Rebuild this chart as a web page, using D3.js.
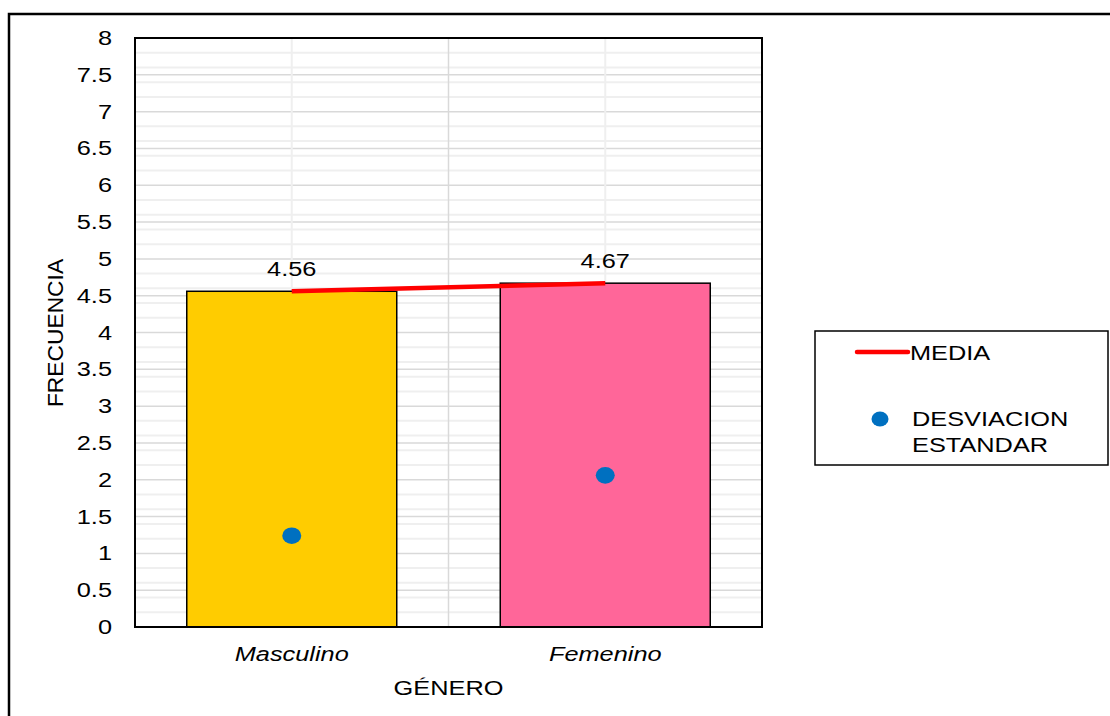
<!DOCTYPE html>
<html>
<head>
<meta charset="utf-8">
<script src="https://cdn.jsdelivr.net/npm/d3@7"></script>
<style>
  body { margin: 0; background: #fff; }
  text { font-family: "Liberation Sans", Arial, sans-serif; fill: #000; }
</style>
</head>
<body>
<div id="chart"></div>
<script>
// data
let categories = ["Masculino", "Femenino"];
let means = [4.56, 4.67];
let stdDevs = [1.24, 2.06];
let barColors = ["#FFCC00", "#FF6699"];
let yTicks = [0, 0.5, 1, 1.5, 2, 2.5, 3, 3.5, 4, 4.5, 5, 5.5, 6, 6.5, 7, 7.5, 8];

let W = 1110, H = 716;
let plot = {left: 135, top: 38, right: 762, bottom: 627};
let fontSize = 19.5;
let stretch = 1.3; // the reference text is wide, so stretch it sideways

// place text at (x, y) with the horizontal stretch
function at(x, y) {
    return "translate(" + x + "," + y + ") scale(" + stretch + ",1)";
}

let svg = d3.select("#chart").append("svg")
    .attr("width", W)
    .attr("height", H);

// outer frame
svg.append("rect")
    .attr("x", 9).attr("y", 14)
    .attr("width", W + 20).attr("height", H + 20)
    .attr("fill", "none").attr("stroke", "#000").attr("stroke-width", 2.5);

let x = d3.scaleBand()
    .domain(categories)
    .range([plot.left, plot.right])
    .paddingInner(0);

let y = d3.scaleLinear()
    .domain([0, 8])
    .range([plot.bottom, plot.top]);

let barW = 210;
let center = d => x(d) + x.bandwidth() / 2;

// minor horizontal grid (every 0.2)
let minor = d3.range(0, 8.01, 0.2).filter(v => Math.abs(v * 2 - Math.round(v * 2)) > 0.01);
svg.append("g").selectAll("line")
    .data(minor)
    .join("line")
    .attr("x1", plot.left).attr("x2", plot.right)
    .attr("y1", d => y(d)).attr("y2", d => y(d))
    .attr("stroke", "#efefef").attr("stroke-width", 2);

// major horizontal grid
svg.append("g").selectAll("line")
    .data(yTicks)
    .join("line")
    .attr("x1", plot.left).attr("x2", plot.right)
    .attr("y1", d => y(d)).attr("y2", d => y(d))
    .attr("stroke", "#d9d9d9").attr("stroke-width", 1.5);

// vertical grid: light at category centers, darker at the boundary
svg.append("g").selectAll("line")
    .data(categories)
    .join("line")
    .attr("x1", center).attr("x2", center)
    .attr("y1", plot.top).attr("y2", plot.bottom)
    .attr("stroke", "#efefef").attr("stroke-width", 2);

svg.append("line")
    .attr("x1", x(categories[1])).attr("x2", x(categories[1]))
    .attr("y1", plot.top).attr("y2", plot.bottom)
    .attr("stroke", "#d9d9d9").attr("stroke-width", 1.5);

// bars
svg.append("g").selectAll("rect")
    .data(categories)
    .join("rect")
    .attr("x", d => x(d) + (x.bandwidth() - barW) / 2)
    .attr("y", (d, i) => y(means[i]))
    .attr("width", barW)
    .attr("height", (d, i) => y(0) - y(means[i]))
    .attr("fill", (d, i) => barColors[i])
    .attr("stroke", "#000").attr("stroke-width", 1.5);

// plot border
svg.append("rect")
    .attr("x", plot.left).attr("y", plot.top)
    .attr("width", plot.right - plot.left).attr("height", plot.bottom - plot.top)
    .attr("fill", "none").attr("stroke", "#000").attr("stroke-width", 2);

// mean line
let line = d3.line()
    .x((d, i) => center(categories[i]))
    .y(d => y(d));

svg.append("path")
    .datum(means)
    .attr("d", line)
    .attr("fill", "none").attr("stroke", "#FF0000").attr("stroke-width", 4.5);

// mean labels
svg.append("g").selectAll("text")
    .data(means)
    .join("text")
    .attr("transform", (d, i) => at(center(categories[i]), y(d) - 15))
    .attr("text-anchor", "middle")
    .attr("font-size", fontSize)
    .text(d => d.toFixed(2));

// std dev dots
svg.append("g").selectAll("ellipse")
    .data(stdDevs)
    .join("ellipse")
    .attr("cx", (d, i) => center(categories[i]))
    .attr("cy", d => y(d))
    .attr("rx", 9.5).attr("ry", 8.3)
    .attr("fill", "#0070C0");

// y axis labels
svg.append("g").selectAll("text")
    .data(yTicks)
    .join("text")
    .attr("transform", d => at(112, y(d)))
    .attr("dy", "0.36em")
    .attr("text-anchor", "end")
    .attr("font-size", fontSize)
    .text(d => d);

// x axis labels
svg.append("g").selectAll("text")
    .data(categories)
    .join("text")
    .attr("transform", d => at(center(d), 661))
    .attr("text-anchor", "middle")
    .attr("font-size", fontSize)
    .attr("font-style", "italic")
    .text(d => d);

svg.append("text")
    .attr("transform", at(x(categories[1]), 695))
    .attr("text-anchor", "middle")
    .attr("font-size", fontSize)
    .text("GÉNERO");

svg.append("text")
    .attr("transform", "translate(63,333) rotate(-90)")
    .attr("text-anchor", "middle")
    .attr("font-size", 22.8)
    .text("FRECUENCIA");

// legend
let lg = svg.append("g");
lg.append("rect")
    .attr("x", 815).attr("y", 331)
    .attr("width", 293).attr("height", 134)
    .attr("fill", "#fff").attr("stroke", "#000").attr("stroke-width", 1.5);
lg.append("line")
    .attr("x1", 857).attr("x2", 908)
    .attr("y1", 352).attr("y2", 352)
    .attr("stroke", "#FF0000").attr("stroke-width", 4.5).attr("stroke-linecap", "round");
lg.append("text")
    .attr("transform", at(910, 360))
    .attr("font-size", fontSize).text("MEDIA");
lg.append("ellipse")
    .attr("cx", 880).attr("cy", 419)
    .attr("rx", 8.5).attr("ry", 7.5)
    .attr("fill", "#0070C0");
lg.append("text")
    .attr("transform", at(912, 426))
    .attr("font-size", fontSize).text("DESVIACION");
lg.append("text")
    .attr("transform", at(912, 452))
    .attr("font-size", fontSize).text("ESTANDAR");
</script>
</body>
</html>
